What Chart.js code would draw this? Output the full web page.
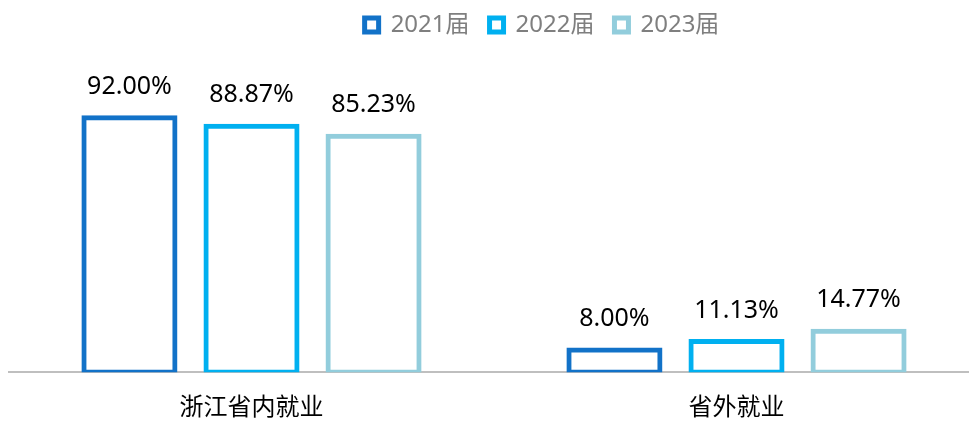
<!DOCTYPE html>
<html>
<head>
<meta charset="utf-8">
<script src="https://cdn.jsdelivr.net/npm/chart.js@4/dist/chart.umd.min.js"></script>
<style>
  html, body { margin: 0; padding: 0; background: #fff; overflow: hidden; }
  /* plot runs a little past the right and bottom edges */
  #wrap { width: 979px; height: 445px; }
</style>
</head>
<body>
<div id="wrap"><canvas id="jobChart"></canvas></div>
<script>
// employment share by region, per graduating class
const categories = ['浙江省内就业', '省外就业'];
const seriesNames = ['2021届', '2022届', '2023届'];
const rate2021 = [92.00, 8.00];
const rate2022 = [88.87, 11.13];
const rate2023 = [85.23, 14.77];

const FONT = '"Noto Sans", "Noto Sans CJK SC", sans-serif';

function makeSet(label, values, color) {
  return {
    label: label,
    data: values,
    backgroundColor: '#ffffff',
    borderColor: color,
    borderWidth: 5,
    borderSkipped: false,
    inflateAmount: 2.5,
    barPercentage: 0.746,
    categoryPercentage: 0.755
  };
}

// percent labels above each bar
const valueLabels = {
  id: 'valueLabels',
  afterDatasetsDraw(chart) {
    const ctx = chart.ctx;
    ctx.save();
    ctx.font = '25px ' + FONT;
    ctx.fillStyle = '#000000';
    ctx.textAlign = 'center';
    ctx.textBaseline = 'middle';
    chart.data.datasets.forEach((ds, i) => {
      chart.getDatasetMeta(i).data.forEach((bar, j) => {
        ctx.fillText(ds.data[j].toFixed(2) + '%', bar.x, bar.y - 31);
      });
    });
    ctx.restore();
  }
};

// nudge the legend a bit right and up
const legendShift = {
  id: 'legendShift',
  afterLayout(chart) {
    const lg = chart.legend;
    lg.left += 48; lg.right += 48;
    lg.top -= 7; lg.bottom -= 7;
  }
};

const myChart = new Chart(document.getElementById('jobChart'), {
  type: 'bar',
  data: {
    labels: categories,
    datasets: [
      makeSet(seriesNames[0], rate2021, '#1272C8'),
      makeSet(seriesNames[1], rate2022, '#00B0F0'),
      makeSet(seriesNames[2], rate2023, '#92CDDC')
    ]
  },
  options: {
    responsive: true,
    maintainAspectRatio: false,
    animation: false,
    layout: { padding: { left: 9, right: 0, top: 0, bottom: 0 } },
    plugins: {
      legend: {
        position: 'top',
        labels: {
          boxWidth: 14,
          boxHeight: 14,
          padding: 20,
          color: '#7f7f7f',
          font: { family: FONT, size: 24 }
        }
      },
      tooltip: { enabled: false }
    },
    scales: {
      x: {
        grid: { display: false, drawTicks: false },
        border: { display: true, color: '#bfbfbf', width: 2 },
        ticks: { color: '#000000', padding: 22, font: { family: FONT, size: 24 } }
      },
      y: {
        display: false,
        min: 0,
        max: 115
      }
    }
  },
  plugins: [valueLabels, legendShift]
});
</script>
</body>
</html>
